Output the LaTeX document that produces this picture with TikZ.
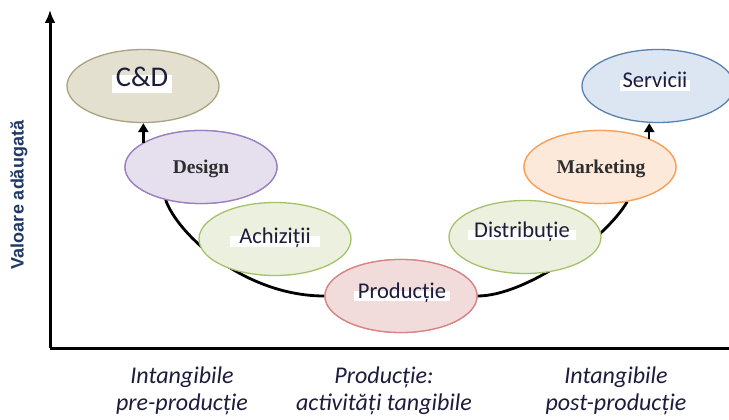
\documentclass[tikz,border=0pt]{standalone}
\usepackage{fontspec}
\setmainfont{Carlito}
\newfontfamily\serifbf{Liberation Serif}
\newfontfamily\arialfam{Liberation Sans}
\usetikzlibrary{shapes.geometric,arrows.meta}
\definecolor{txt}{HTML}{1C1C3C}
\definecolor{ylab}{HTML}{203864}
\definecolor{cdfill}{HTML}{E3E0D0}
\definecolor{cddraw}{HTML}{A9A27E}
\definecolor{dsfill}{HTML}{E6E0EE}
\definecolor{dsdraw}{HTML}{9A80C0}
\definecolor{grfill}{HTML}{EBF1DE}
\definecolor{grdraw}{HTML}{A3C26A}
\definecolor{prfill}{HTML}{F2DCDB}
\definecolor{prdraw}{HTML}{D88482}
\definecolor{mkfill}{HTML}{FDE9D9}
\definecolor{mkdraw}{HTML}{F7A05A}
\definecolor{svfill}{HTML}{DCE6F2}
\definecolor{svdraw}{HTML}{5A80AD}
\begin{document}
\begin{tikzpicture}[x=1pt,y=-1pt,
  stage/.style={ellipse, draw, line width=1.3pt, minimum width=152pt, minimum height=73pt, inner sep=0pt},
  lbl/.style={fill=white, inner xsep=6pt, inner ysep=0.5pt, text height=0.72em, text depth=0.24em,
    font=\fontsize{22.5}{22.5}\selectfont, text=txt},
  seriflbl/.style={inner sep=0pt, font=\serifbf\bfseries\fontsize{19.5}{19.5}\selectfont, text=black!82},
  bottomlbl/.style={inner sep=0pt, anchor=north, align=center, text=txt,
    font=\itshape\fontsize{24}{27}\selectfont},
  conn/.style={line width=2.8pt},
  smallarr/.style={line width=2.4pt, -{Triangle[length=9pt,width=10pt]}},
  axis/.style={line width=3pt}
]
\useasboundingbox (0,0) rectangle (729,420);

% axes
\coordinate (origin) at (50,348);
\coordinate (ytop) at (50,10);
\coordinate (xend) at (729,348);
\draw[axis, -{Latex[length=13pt,width=11pt]}] (origin) -- (ytop);
\draw[axis] (origin) -- (xend);

% ellipses (nodes)
\node[stage, fill=dsfill, draw=dsdraw] (design) at (201,167) {};
\node[stage, fill=prfill, draw=prdraw] (prod) at (401,296) {};
\node[stage, fill=mkfill, draw=mkdraw] (mark) at (600,167) {};

% curve behind the lower ellipses
\draw[conn] (design.223) .. controls (178,235) and (245,296) .. (prod.west);
\draw[conn] (prod.east) .. controls (525,296) and (605,240) .. (mark.-52);

\node[stage, fill=cdfill, draw=cddraw] (cd) at (143,86) {};
\node[stage, fill=grfill, draw=grdraw] (achiz) at (275,239) {};
\node[stage, fill=grfill, draw=grdraw] (distr) at (525,237) {};
\node[stage, fill=svfill, draw=svdraw] (serv) at (658,86) {};
% redraw design, prod, mark on top of curve ends
\node[stage, fill=dsfill, draw=dsdraw] (design2) at (design) {};
\node[stage, fill=prfill, draw=prdraw] (prod2) at (prod) {};
\node[stage, fill=mkfill, draw=mkdraw] (mark2) at (mark) {};

% arrows
\draw[smallarr] (design.157) -- (design.157 |- cd.south);
\draw[smallarr] (mark.30) -- (mark.30 |- serv.south);

% labels
\node[lbl, inner xsep=4pt, inner ysep=4pt, font=\fontsize{28.5}{28.5}\selectfont] (cdlbl) at (142,84) {C\&D};
\node[seriflbl] (designlbl) at (201,169) {Design};
\node[lbl, inner xsep=9pt] (achizlbl) at (275,241.5) {Achiziții};
\node[lbl, inner xsep=4pt] (prodlbl) at (402,296) {Producție};
\node[lbl, inner xsep=6pt] (distrlbl) at (522,235) {Distribuție};
\node[seriflbl] (marklbl) at (601,169) {Marketing};
\node[lbl, inner xsep=3pt] (servlbl) at (655,85.5) {Servicii};

% axis label
\node[rotate=90, inner sep=0pt, text=ylab, font=\arialfam\bfseries\fontsize{18}{18}\selectfont] (ylabel) at (19,195) {Valoare adăugată};

% bottom labels
\node[bottomlbl] (pre) at (182,366.5) {Intangibile\\pre-producție};
\node[bottomlbl] (mid) at (384,366.5) {Producție:\\activități tangibile};
\node[bottomlbl] (post) at (616,366.5) {Intangibile\\post-producție};
\end{tikzpicture}
\end{document}
